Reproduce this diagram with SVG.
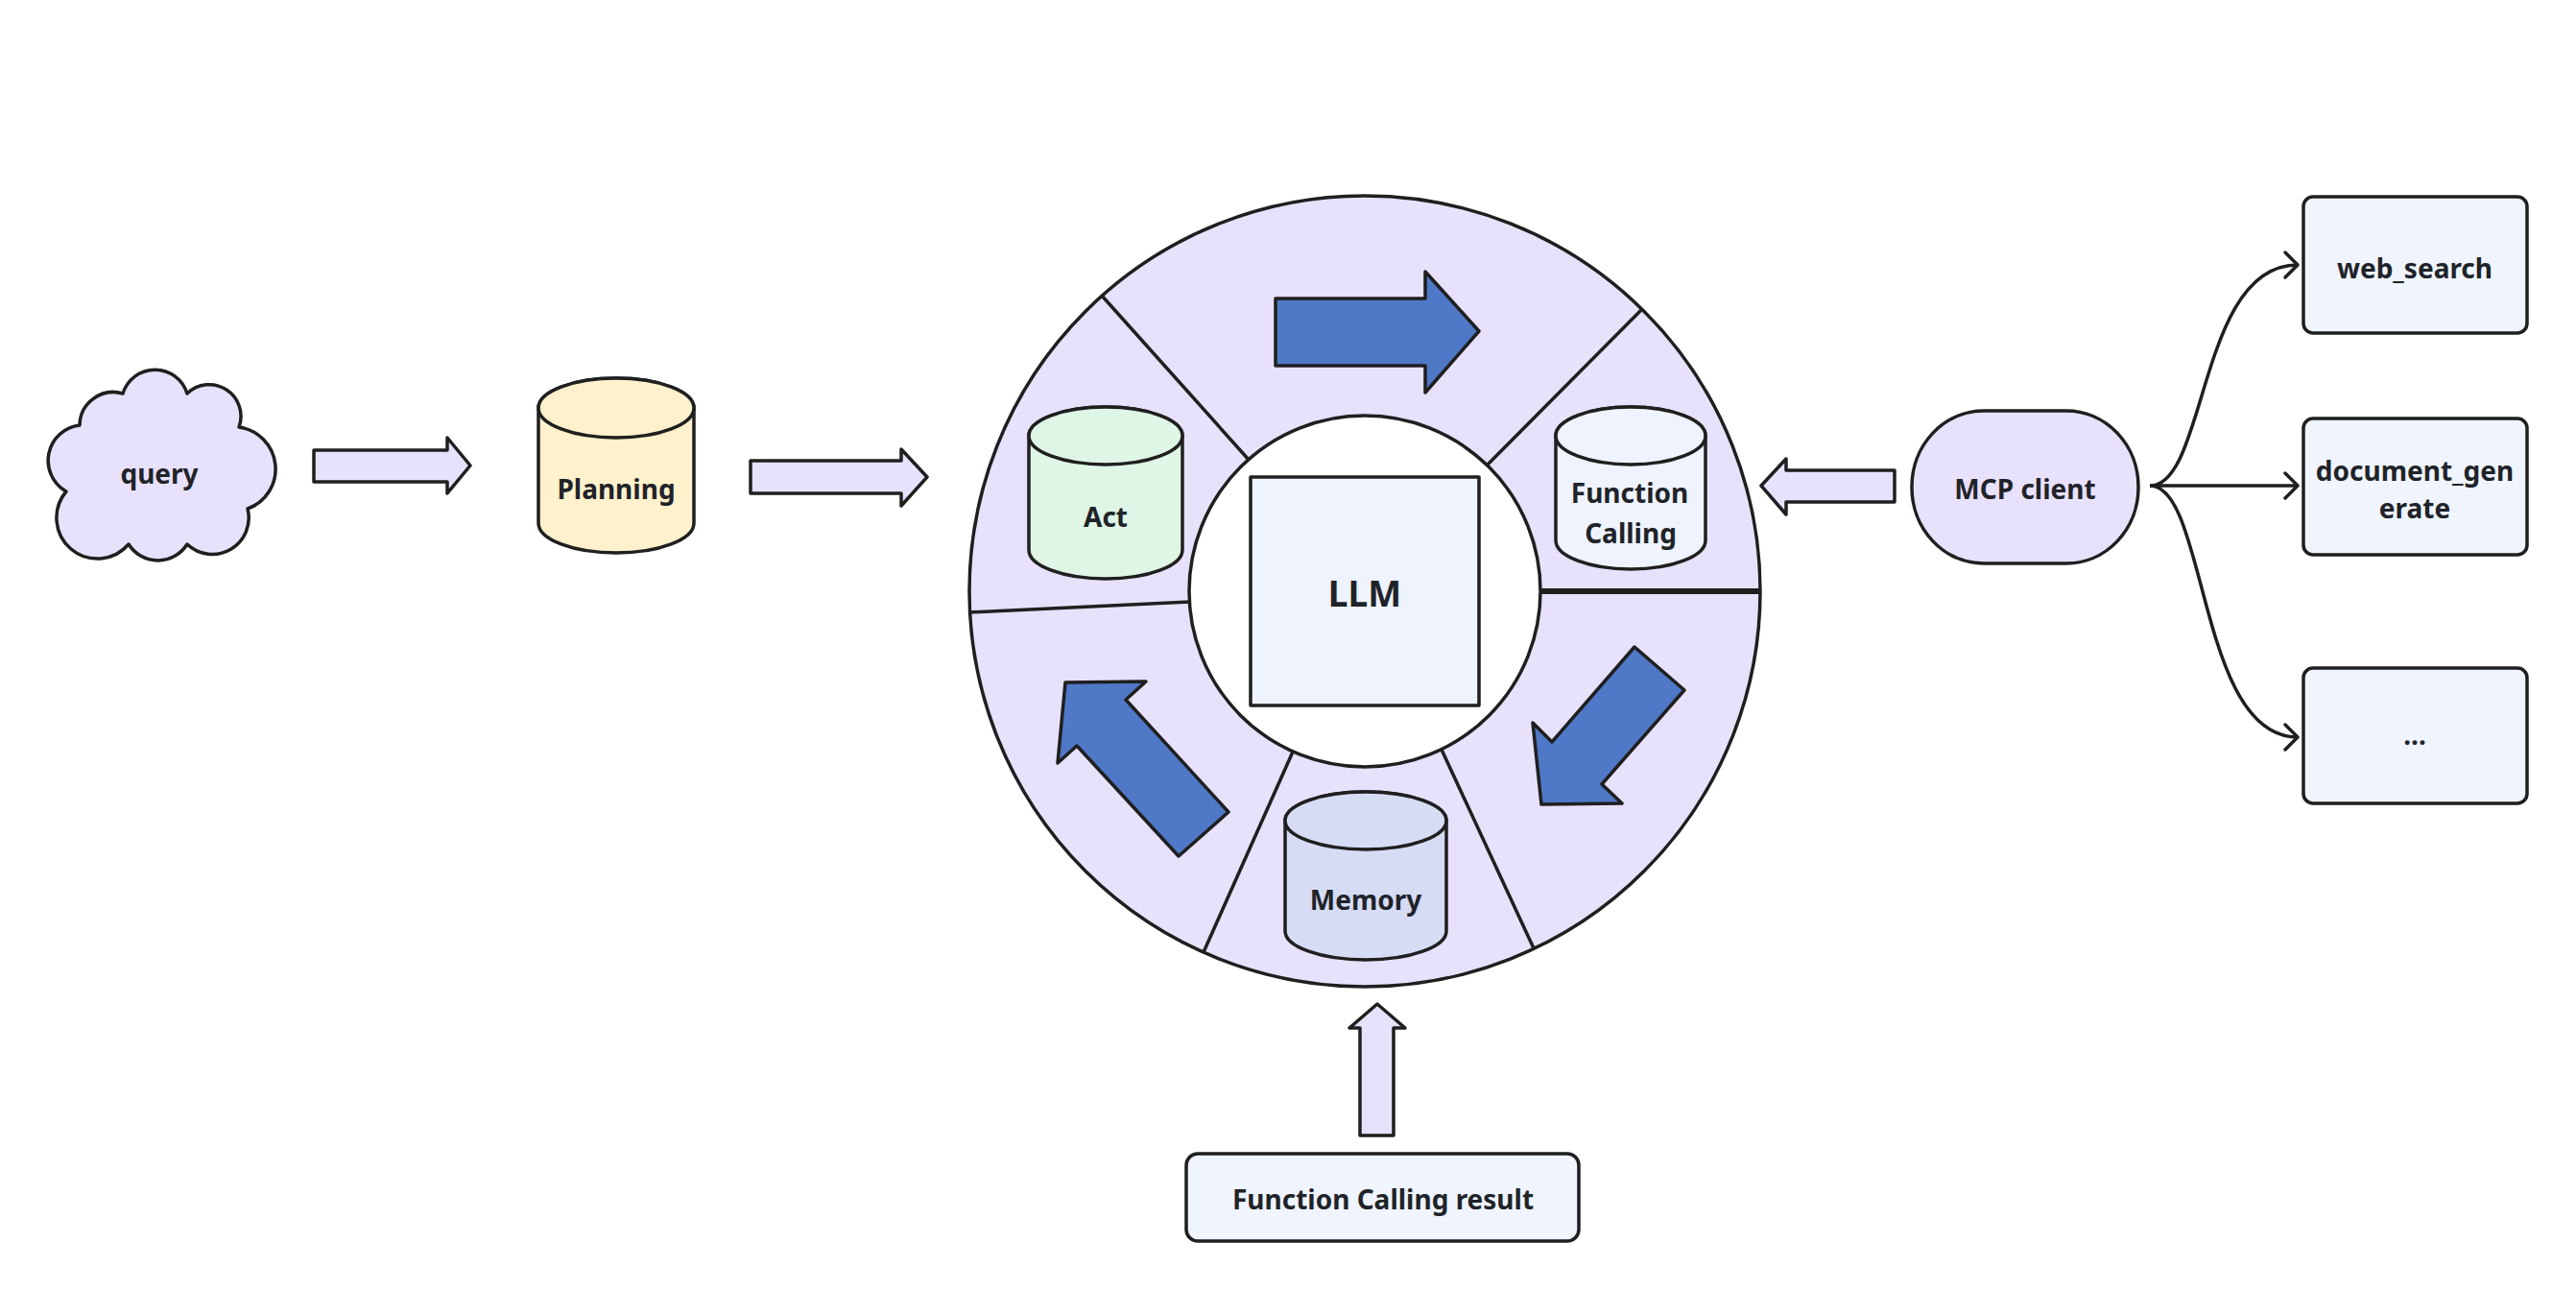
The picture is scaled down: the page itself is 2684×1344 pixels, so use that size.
<svg xmlns="http://www.w3.org/2000/svg" width="2684" height="1344" viewBox="0 0 2684 1344">
<defs>
<style>
.s{stroke:#1f1f1f;stroke-width:3.5;stroke-linejoin:round}
.lav{fill:#e8e1fc}
.blue{fill:#4f78c6}
.box{fill:#eff4fd}
.t{font-family:"Noto Sans","Open Sans",sans-serif;font-weight:700;font-size:28px;fill:#1f2329;text-anchor:middle;dominant-baseline:central}
.big{font-size:37px}
.ln{fill:none;stroke:#1f1f1f;stroke-width:3.5}
</style>
<marker id="chev" markerWidth="22" markerHeight="32" refX="16" refY="16" orient="auto" markerUnits="userSpaceOnUse">
<path d="M3,3 L16,16 L3,29" fill="none" stroke="#1f1f1f" stroke-width="3.5" stroke-linecap="round" stroke-linejoin="round"/>
</marker>
</defs>
<rect width="2684" height="1344" fill="#ffffff"/>

<g id="query">
<path class="s lav" stroke-width="4" d="M128,410 A35,35 0 0 1 195,410 A33,33 0 0 1 249,445 A44,44 0 0 1 258,530 A38,38 0 0 1 195,567 A36,36 0 0 1 134,567 A40,40 0 0 1 69,512 A37,37 0 0 1 83,443 A35,35 0 0 1 128,410 Z"/>
<text class="t" x="166" y="493">query</text>
</g>

<g id="planning">
<path class="s" fill="#fef1cc" d="M561,425 L561,545 A81,31 0 0 0 723,545 L723,425 A81,31 0 0 0 561,425 Z"/>
<ellipse class="s" fill="#fef1cc" cx="642" cy="425" rx="81" ry="31"/>
<text class="t" x="642" y="509">Planning</text>
</g>

<g id="ring">
<circle class="s lav" cx="1422" cy="616" r="412"/>
<g class="ln">
<line x1="1148" y1="308" x2="1302" y2="480"/>
<line x1="1711" y1="322" x2="1550" y2="484"/>
<line x1="1606" y1="616" x2="1834" y2="616" stroke-width="6"/>
<line x1="1010" y1="638" x2="1240" y2="627"/>
<line x1="1348" y1="781" x2="1254" y2="992"/>
<line x1="1502" y1="781" x2="1598" y2="988"/>
</g>
<circle class="s" fill="#ffffff" cx="1422" cy="616" r="183"/>
<polygon class="s blue" points="1329,311 1485,311 1485,283 1541,345 1485,409 1485,381 1329,381"/>
<polygon class="s blue" points="1703,674 1755,719 1669,817 1690,837 1606,838 1597,753 1617,773"/>
<polygon class="s blue" points="1280,846 1228,892 1122,777 1102,795 1110,711 1194,710 1173,729"/>
</g>

<g id="llm">
<rect class="s" fill="#eef3fd" x="1303" y="497" width="238" height="238"/>
<text class="t big" x="1422" y="617">LLM</text>
</g>

<g id="act">
<path class="s" fill="#dff5e5" d="M1072,454 L1072,573 A80,30 0 0 0 1232,573 L1232,454 A80,30 0 0 0 1072,454 Z"/>
<ellipse class="s" fill="#dff5e5" cx="1152" cy="454" rx="80" ry="30"/>
<text class="t" x="1152" y="538">Act</text>
</g>

<g id="function-calling">
<path class="s" fill="#eef3fd" d="M1621,454 L1621,563 A78,30 0 0 0 1777,563 L1777,454 A78,30 0 0 0 1621,454 Z"/>
<ellipse class="s" fill="#eef3fd" cx="1699" cy="454" rx="78" ry="30"/>
<text class="t" x="1698" y="513">Function</text>
<text class="t" x="1699" y="555">Calling</text>
</g>

<g id="memory">
<path class="s" fill="#d6dcf4" d="M1339,855 L1339,970 A84,30 0 0 0 1507,970 L1507,855 A84,30 0 0 0 1339,855 Z"/>
<ellipse class="s" fill="#d6dcf4" cx="1423" cy="855" rx="84" ry="30"/>
<text class="t" x="1423" y="937">Memory</text>
</g>

<g id="mcp-client">
<rect class="s lav" x="1992" y="428" width="236" height="159" rx="75" ry="79"/>
<text class="t" x="2110" y="509">MCP client</text>
</g>

<g id="web-search">
<rect class="s box" x="2400" y="205" width="233" height="142" rx="10"/>
<text class="t" x="2516" y="279">web_search</text>
</g>

<g id="document-generate">
<rect class="s box" x="2400" y="436" width="233" height="142" rx="10"/>
<text class="t" x="2516" y="490">document_gen</text>
<text class="t" x="2516" y="529">erate</text>
</g>

<g id="more">
<rect class="s box" x="2400" y="696" width="233" height="141" rx="10"/>
<text class="t" x="2516" y="765">...</text>
</g>

<g id="fc-result">
<rect class="s box" x="1236" y="1202" width="409" height="91" rx="12"/>
<text class="t" x="1441" y="1249">Function Calling result</text>
</g>

<g id="connectors">
<polygon class="s lav" points="327,469 466,469 466,456 490,485 466,514 466,502 327,502"/>
<polygon class="s lav" points="782,480 939,480 939,468 966,497 939,527 939,514 782,514"/>
<polygon class="s lav" points="1974,490 1861,490 1861,478 1835,506 1861,536 1861,523 1974,523"/>
<polygon class="s lav" points="1417,1183 1417,1071 1406,1071 1435,1046 1464,1071 1452,1071 1452,1183"/>
<path class="ln" d="M2240,506 C2300,506 2290,276 2394,276" marker-end="url(#chev)"/>
<path class="ln" d="M2240,506 L2394,506" marker-end="url(#chev)"/>
<path class="ln" d="M2240,506 C2300,506 2290,768 2394,768" marker-end="url(#chev)"/>
</g>
</svg>
